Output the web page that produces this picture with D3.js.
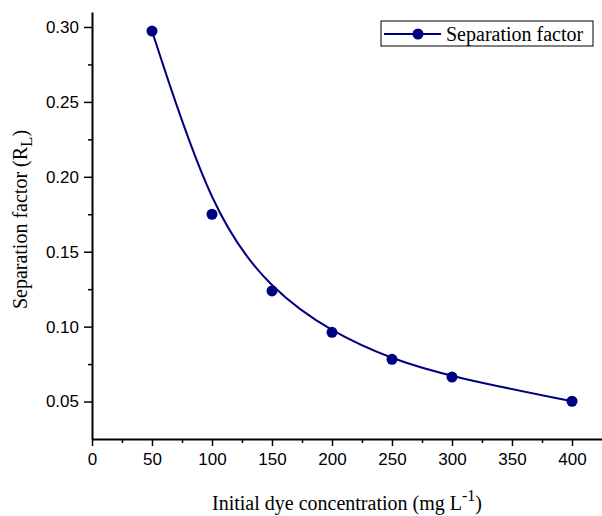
<!DOCTYPE html>
<html>
<head>
<meta charset="utf-8">
<script src="https://cdn.jsdelivr.net/npm/d3@7"></script>
<style>
  body { margin: 0; background: #fff; }
  .title { font-family: "Liberation Serif", "Times New Roman", serif; font-size: 20px; fill: #000; }
</style>
</head>
<body>
<svg id="chart" width="602" height="516"></svg>
<script>
// Data
const concentrations = [50, 100, 150, 200, 250, 300, 400];
const separationFactor = [0.2973, 0.175, 0.1238, 0.0962, 0.0782, 0.0663, 0.0502];
const xTicks = [0, 50, 100, 150, 200, 250, 300, 350, 400];
const yTicks = [0.05, 0.10, 0.15, 0.20, 0.25, 0.30];
const seriesName = "Separation factor";

const margin = {left: 92, right: 0, top: 12, bottom: 77};
const width = 602, height = 516;
const lineColor = "#000080";

const svg = d3.select("#chart");

// scales
const x = d3.scaleLinear().domain([0, 425]).range([margin.left, width - margin.right]);
const y = d3.scaleLinear().domain([0.025, 0.31]).range([height - margin.bottom, margin.top]);

// minor ticks first (half steps)
const xMinor = d3.range(25, 425, 50);
const yMinor = d3.range(0.075, 0.31, 0.05);

svg.append("g")
  .attr("transform", "translate(0," + y.range()[0] + ")")
  .call(d3.axisBottom(x).tickValues(xMinor).tickSize(4).tickFormat(""))
  .call(g => g.select(".domain").remove())
  .selectAll("line").attr("stroke", "#000").attr("stroke-width", 1.5);

svg.append("g")
  .attr("transform", "translate(" + x.range()[0] + ",0)")
  .call(d3.axisLeft(y).tickValues(yMinor).tickSize(4).tickFormat(""))
  .call(g => g.select(".domain").remove())
  .selectAll("line").attr("stroke", "#000").attr("stroke-width", 1.5);

// x axis
const xAxis = svg.append("g")
  .attr("transform", "translate(0," + y.range()[0] + ")")
  .call(d3.axisBottom(x).tickValues(xTicks).tickSizeInner(7).tickSizeOuter(0).tickPadding(7).tickFormat(d3.format("d")));
xAxis.select(".domain").attr("stroke-width", 2);
xAxis.selectAll(".tick line").attr("stroke-width", 1.5);

// y axis
const yAxis = svg.append("g")
  .attr("transform", "translate(" + x.range()[0] + ",0)")
  .call(d3.axisLeft(y).tickValues(yTicks).tickSizeInner(8).tickSizeOuter(0).tickPadding(5).tickFormat(d3.format(".2f")));
yAxis.select(".domain").attr("stroke-width", 2);
yAxis.selectAll(".tick line").attr("stroke-width", 1.5);

svg.selectAll(".tick text")
  .attr("font-family", "'Liberation Sans', Arial, sans-serif")
  .attr("font-size", 17)
  .attr("fill", "#000");

// axis titles
const xt = svg.append("text").attr("class", "title")
  .attr("x", (x.range()[0] + x.range()[1]) / 2).attr("y", 510)
  .attr("text-anchor", "middle");
xt.append("tspan").text("Initial dye concentration (mg L");
xt.append("tspan").attr("dy", -9).attr("font-size", 16).text("-1");
xt.append("tspan").attr("dy", 9).text(")");

const yt = svg.append("text").attr("class", "title")
  .attr("font-size", 21)
  .attr("transform", "translate(27," + ((y.range()[0] + y.range()[1]) / 2 - 6) + ") rotate(-90)")
  .attr("text-anchor", "middle");
yt.append("tspan").text("Separation factor (R");
yt.append("tspan").attr("dy", 5).attr("font-size", 17).text("L");
yt.append("tspan").attr("dy", -5).text(")");

// smoothed line (B-spline like)
const pts = concentrations.map((c, i) => [c, separationFactor[i]]);
svg.append("path")
  .datum(pts)
  .attr("fill", "none")
  .attr("stroke", lineColor)
  .attr("stroke-width", 2)
  .attr("d", d3.line().x(d => x(d[0])).y(d => y(d[1])).curve(d3.curveBasis));

svg.selectAll("circle.pt")
  .data(pts)
  .enter()
  .append("circle")
  .attr("class", "pt")
  .attr("cx", d => x(d[0]))
  .attr("cy", d => y(d[1]))
  .attr("r", 5.5)
  .attr("fill", lineColor);

// legend
const lg = svg.append("g");
lg.append("rect").attr("x", 381).attr("y", 21).attr("width", 212).attr("height", 25)
  .attr("fill", "#fff").attr("stroke", "#000").attr("stroke-width", 1);
lg.append("line").attr("x1", 384).attr("x2", 441).attr("y1", 34).attr("y2", 34)
  .attr("stroke", lineColor).attr("stroke-width", 2);
lg.append("circle").attr("cx", 418).attr("cy", 34).attr("r", 5.5).attr("fill", lineColor);
lg.append("text").attr("class", "title").attr("x", 446).attr("y", 41).text(seriesName);
</script>
</body>
</html>
